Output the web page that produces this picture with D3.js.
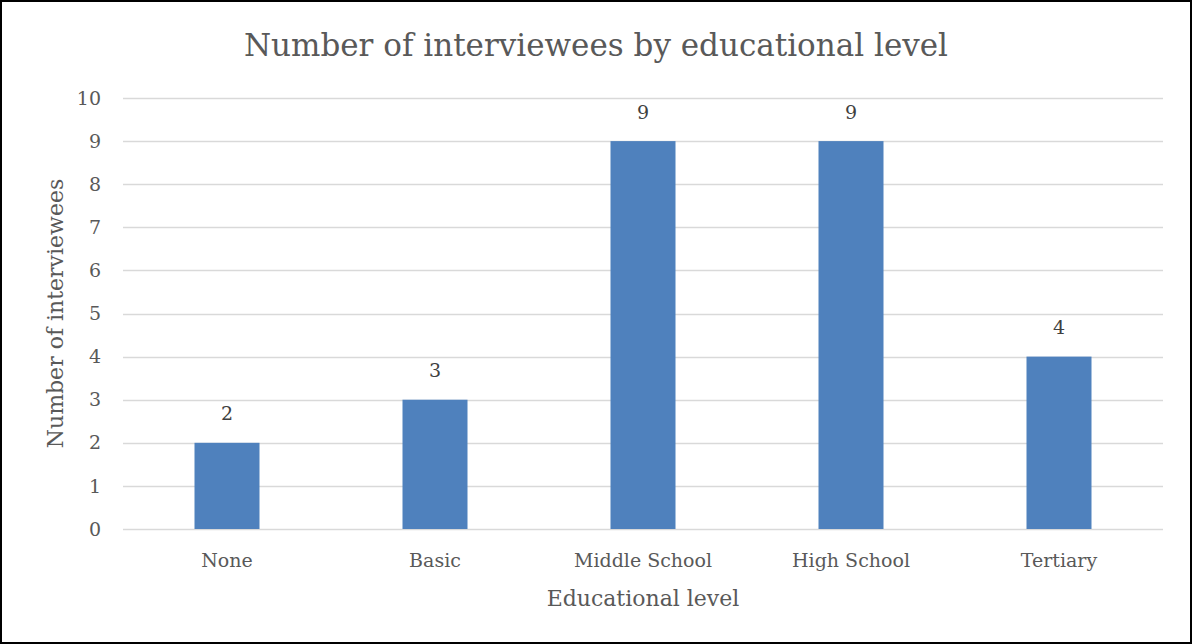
<!DOCTYPE html>
<html lang="en">
<head>
<meta charset="UTF-8">
<title>Number of interviewees by educational level</title>
<script src="https://cdn.jsdelivr.net/npm/d3@7"></script>
<style>
    body { margin: 0; background: #fff; }
    svg text { font-family: "DejaVu Serif", "Liberation Serif", serif; fill: #595959; }
    .grid line { stroke: #d9d9d9; stroke-width: 1.5; }
    .bar { fill: #4f81bd; }
</style>
</head>
<body>
<div class="chart"></div>
<script>
"use strict";

var categories = ["None", "Basic", "Middle School", "High School", "Tertiary"];
var values = [2, 3, 9, 9, 4];
var yTicks = [0, 1, 2, 3, 4, 5, 6, 7, 8, 9, 10];

var width = 1192, height = 644;
var margin = { top: 98, right: 29, bottom: 115, left: 123 };

var svg = d3.select(".chart").append("svg")
    .attr("width", width)
    .attr("height", height);

// outer frame
svg.append("rect")
    .attr("x", 1).attr("y", 1)
    .attr("width", width - 2).attr("height", height - 2)
    .attr("fill", "none")
    .attr("stroke", "#000")
    .attr("stroke-width", 2);

var x = d3.scaleBand()
    .domain(categories)
    .range([margin.left, width - margin.right])
    .padding(0);

var y = d3.scaleLinear()
    .domain([0, 10])
    .range([height - margin.bottom, margin.top]);

var barWidth = x.bandwidth() / 3.2;

// gridlines
svg.append("g").attr("class", "grid")
    .selectAll("line").data(yTicks).enter().append("line")
    .attr("x1", margin.left).attr("x2", width - margin.right)
    .attr("y1", function(d) { return Math.round(y(d)) + 0.5; })
    .attr("y2", function(d) { return Math.round(y(d)) + 0.5; });

// y tick labels
svg.append("g")
    .selectAll("text").data(yTicks).enter().append("text")
    .attr("x", 101)
    .attr("y", function(d) { return y(d); })
    .attr("dy", "0.35em")
    .attr("text-anchor", "end")
    .style("font-size", "19px")
    .text(function(d) { return d; });

// bars
svg.append("g")
    .selectAll("rect").data(values).enter().append("rect")
    .attr("class", "bar")
    .attr("x", function(d, i) { return x(categories[i]) + x.bandwidth() / 2 - barWidth / 2; })
    .attr("y", function(d) { return y(d); })
    .attr("width", barWidth)
    .attr("height", function(d) { return y(0) - y(d); });

// data labels
svg.append("g")
    .selectAll("text").data(values).enter().append("text")
    .attr("x", function(d, i) { return x(categories[i]) + x.bandwidth() / 2; })
    .attr("y", function(d) { return y(d) - 29; })
    .attr("dy", "0.35em")
    .attr("text-anchor", "middle")
    .style("font-size", "19px")
    .style("fill", "#404040")
    .text(function(d) { return d; });

// category labels
svg.append("g")
    .selectAll("text").data(categories).enter().append("text")
    .attr("x", function(d) { return x(d) + x.bandwidth() / 2; })
    .attr("y", 560)
    .attr("dy", "0.35em")
    .attr("text-anchor", "middle")
    .style("font-size", "19px")
    .text(function(d) { return d; });

// axis titles
svg.append("text")
    .attr("x", (margin.left + width - margin.right) / 2)
    .attr("y", 598)
    .attr("dy", "0.35em")
    .attr("text-anchor", "middle")
    .style("font-size", "22px")
    .text("Educational level");

svg.append("text")
    .attr("transform", "translate(55," + y(5) + ") rotate(-90)")
    .attr("dy", "0.35em")
    .attr("text-anchor", "middle")
    .style("font-size", "22px")
    .text("Number of interviewees");

// title
svg.append("text")
    .attr("x", 596)
    .attr("y", 45)
    .attr("dy", "0.35em")
    .attr("text-anchor", "middle")
    .style("font-size", "31px")
    .text("Number of interviewees by educational level");
</script>
</body>
</html>
